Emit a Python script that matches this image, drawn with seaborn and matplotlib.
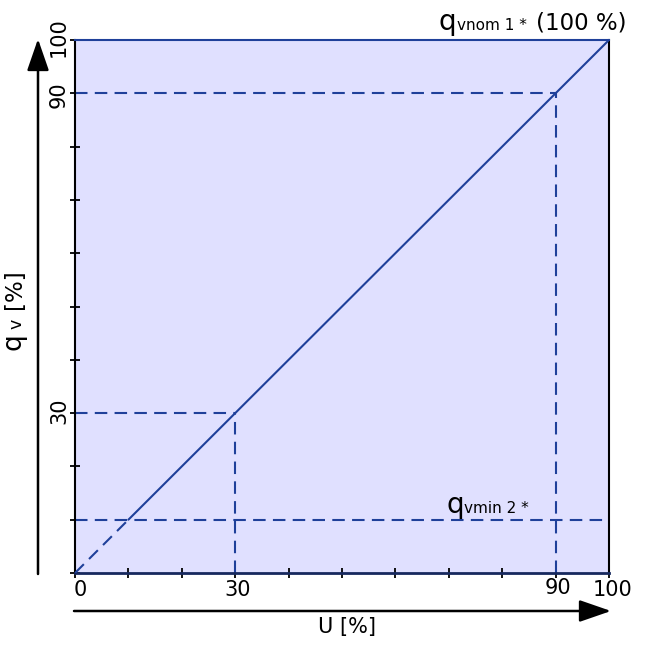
import matplotlib
matplotlib.use("Agg")
import matplotlib.pyplot as plt
import seaborn as sns
import pandas as pd

# ---- data ----
u_dashed = [0, 10]
qv_dashed = [0, 10]
u_solid = [10, 100]
qv_solid = [10, 100]
guide_levels = [30, 90]      # dashed guides at U = qv = 30 and 90
qvmin_level = 10
axis_max = 100
tick_values = [0, 10, 20, 30, 40, 50, 60, 70, 80, 90, 100]
x_tick_labels = ["0", "30", "90", "100"]
y_tick_labels = ["30", "90", "100"]

sns.set_theme(style="white")
plt.rcParams['font.family'] = ['DejaVu Sans']
plt.rcParams['text.color'] = 'black'

LINE = '#1f409a'
FILL = '#e0e0ff'
W, H = 660, 649
fig = plt.figure(figsize=(6.6, 6.49), dpi=100)
ax = fig.add_axes([75 / W, 1 - 573 / H, 534 / W, 533 / H])
ax.set_facecolor(FILL)

df_d = pd.DataFrame({"U": u_dashed, "qv": qv_dashed})
df_s = pd.DataFrame({"U": u_solid, "qv": qv_solid})
sns.lineplot(data=df_s, x="U", y="qv", ax=ax, color=LINE, lw=1.5, zorder=3)
l = sns.lineplot(data=df_d, x="U", y="qv", ax=ax, color=LINE, lw=1.5, zorder=3)
l.lines[-1].set_dashes((6, 3.5))

for g in guide_levels:
    ax.plot([0, g], [g, g], color=LINE, lw=1.5, dashes=(6, 3.5), zorder=2)
    ax.plot([g, g], [0, g], color=LINE, lw=1.5, dashes=(6, 3.5), zorder=2)
ax.plot([0, axis_max], [qvmin_level, qvmin_level], color=LINE, lw=1.5,
        dashes=(6, 3.5), zorder=2)

ax.set_xlim(0, axis_max)
ax.set_ylim(0, axis_max)
ax.set_xlabel("")
ax.set_ylabel("")
ax.set_xticks(tick_values)
ax.set_yticks(tick_values)
ax.set_xticklabels([])
ax.set_yticklabels([])
ax.tick_params(axis='both', direction='inout', length=7, width=1.3,
               color='black', bottom=True, left=True)

for s in ['left', 'right']:
    ax.spines[s].set_color('black')
    ax.spines[s].set_linewidth(1.5)
ax.spines['top'].set_color(LINE)
ax.spines['top'].set_linewidth(1.5)
ax.spines['bottom'].set_color('#16285e')
ax.spines['bottom'].set_linewidth(2)

def fx(px):
    return px / W

def fy(py):
    return 1 - py / H

FS = 15
# tick labels placed as text
xpos = {"0": (80, 590), "30": (238, 590), "90": (558, 588), "100": (613, 590)}
for lab in x_tick_labels:
    x, y = xpos[lab]
    fig.text(fx(x), fy(y), lab, fontsize=FS, ha='center', va='center', color='black')
ypos = {"30": (59, 411), "90": (59, 95), "100": (59, 37)}
for lab in y_tick_labels:
    x, y = ypos[lab]
    fig.text(fx(x), fy(y), lab, fontsize=FS, ha='center', va='center',
             rotation=90, color='black')

# axis labels
fig.text(fx(347), fy(627), "U [%]", fontsize=FS, ha='center', va='center', color='black')
for txt, ypx, fs in [("q", 350, 19), ("v", 329, 12.5), ("[%]", 309, 16.5)]:
    fig.text(fx(21), fy(ypx), txt, fontsize=fs, ha='left', va='baseline',
             rotation=90, rotation_mode='anchor', color='black')

# annotations
fig.text(fx(438), fy(30), "q", fontsize=20, ha='left', va='baseline', color='black')
fig.text(fx(457), fy(30), "vnom 1 *", fontsize=11, ha='left', va='baseline', color='black')
fig.text(fx(536), fy(30), "(100 %)", fontsize=16.5, ha='left', va='baseline', color='black')
fig.text(fx(446), fy(513), "q", fontsize=20, ha='left', va='baseline', color='black')
fig.text(fx(464), fy(513), "vmin 2 *", fontsize=11, ha='left', va='baseline', color='black')

# axis arrows
style = '-|>,head_length=1.3,head_width=0.45'
fig.add_artist(matplotlib.patches.FancyArrowPatch(
    (fx(38), fy(574)), (fx(38), fy(39)), transform=fig.transFigure,
    arrowstyle=style, color='black', lw=1.8,
    shrinkA=0, shrinkB=0, mutation_scale=15))
fig.add_artist(matplotlib.patches.FancyArrowPatch(
    (fx(74), fy(611)), (fx(611), fy(611)), transform=fig.transFigure,
    arrowstyle=style, color='black', lw=1.8,
    shrinkA=0, shrinkB=0, mutation_scale=15))

fig.savefig("out.png", dpi=100, facecolor='white')
